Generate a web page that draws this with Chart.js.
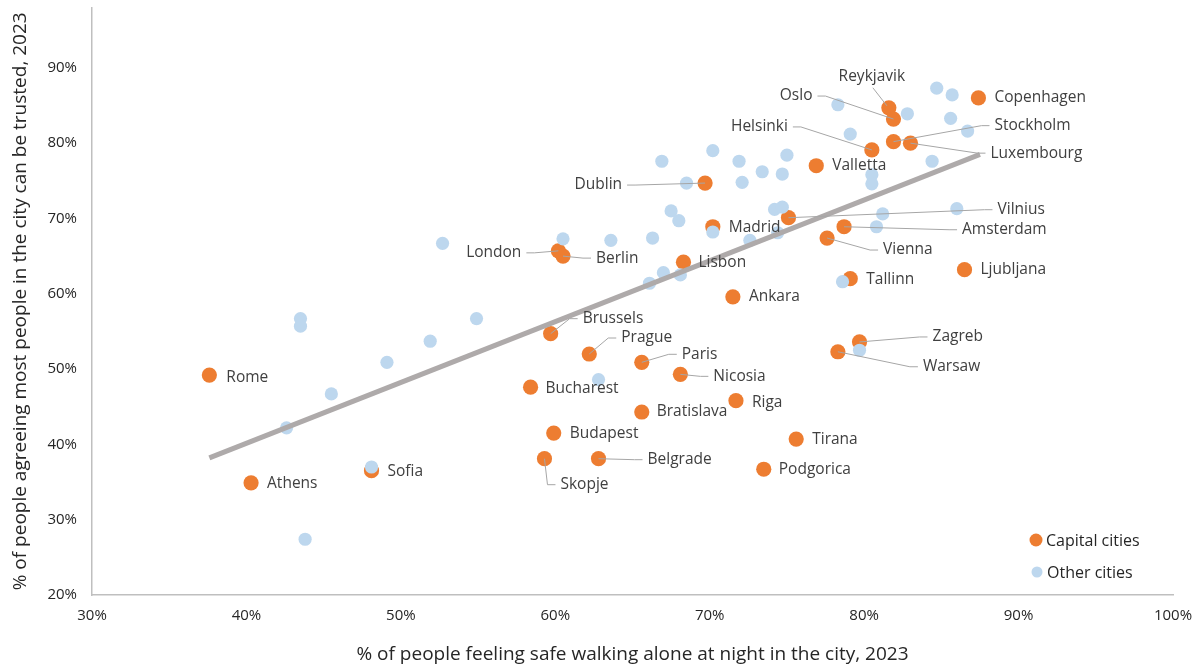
<!DOCTYPE html>
<html>
<head>
<meta charset="utf-8">
<script src="https://cdn.jsdelivr.net/npm/chart.js@4.4.1/dist/chart.umd.min.js"></script>
<style>
  html, body { margin: 0; padding: 0; background: #fff; }
  #wrap { width: 1201px; height: 668px; }
</style>
</head>
<body>
<div id="wrap"><canvas id="chart" width="1201" height="668"></canvas></div>
<script>
// Capital cities: % feeling safe at night (x) and % trusting people (y)
const capitalNames = ['Copenhagen', 'Reykjavik', 'Oslo', 'Stockholm', 'Luxembourg', 'Helsinki', 'Valletta',
    'Dublin', 'Vilnius', 'Madrid', 'Amsterdam', 'Vienna', 'London', 'Berlin', 'Lisbon', 'Ljubljana',
    'Tallinn', 'Ankara', 'Brussels', 'Zagreb', 'Prague', 'Warsaw', 'Paris', 'Nicosia', 'Rome',
    'Bucharest', 'Riga', 'Bratislava', 'Budapest', 'Tirana', 'Skopje', 'Belgrade', 'Podgorica',
    'Sofia', 'Athens'];
const capitalSafe = [87.4, 81.6, 81.9, 81.9, 83.0, 80.5, 76.9, 69.7, 75.1, 70.2, 78.7, 77.6, 60.2, 60.5,
    68.3, 86.5, 79.1, 71.5, 59.7, 79.7, 62.2, 78.3, 65.6, 68.1, 37.6, 58.4, 71.7, 65.6, 59.9, 75.6,
    59.3, 62.8, 73.5, 48.1, 40.3];
const capitalTrust = [86.0, 84.7, 83.2, 80.2, 80.0, 79.1, 77.0, 74.7, 70.1, 68.9, 68.9, 67.4, 65.7, 65.0,
    64.2, 63.2, 62.0, 59.6, 54.7, 53.6, 52.0, 52.3, 50.9, 49.3, 49.2, 47.6, 45.8, 44.3, 41.5, 40.7,
    38.1, 38.1, 36.7, 36.5, 34.9];

// Other cities
const otherSafe = [84.7, 85.7, 78.3, 82.8, 85.6, 86.7, 79.1, 66.9, 70.2, 71.9, 75.0, 73.4, 74.7, 68.5,
    72.1, 84.4, 80.5, 80.5, 67.5, 68.0, 74.2, 74.7, 70.2, 72.6, 74.4, 81.2, 86.0, 80.8, 52.7, 60.5,
    63.6, 66.3, 67.0, 68.1, 66.1, 78.6, 43.5, 43.5, 54.9, 51.9, 49.1, 45.5, 42.6, 48.1, 62.8, 43.8, 79.7];
const otherTrust = [87.3, 86.4, 85.1, 83.9, 83.3, 81.6, 81.2, 77.6, 79.0, 77.6, 78.4, 76.2, 75.9, 74.7,
    74.8, 77.6, 75.8, 74.6, 71.0, 69.7, 71.2, 71.5, 68.2, 67.1, 68.1, 70.6, 71.3, 68.9, 66.7, 67.3,
    67.1, 67.4, 62.8, 62.5, 61.4, 61.6, 56.7, 55.7, 56.7, 53.7, 50.9, 46.7, 42.2, 37.0, 48.6, 27.4, 52.5];

// Linear trend line end points
const trendSafe = [37.6, 87.5];
const trendTrust = [38.2, 78.5];

const xTitle = '% of people feeling safe walking alone at night in the city, 2023';
const yTitle = '% of people agreeing most people in the city can be trusted, 2023';
const legendNames = ['Capital cities', 'Other cities'];

const ORANGE = '#ED7D31';
const BLUE = '#BDD7EE';
const TREND = '#AEAAAA';
const LEADER = '#A6A6A6';
const FONT = '"Open Sans", "Noto Sans", sans-serif';

// label placement relative to the dot: dx, dy (px), text align, leader type
const labelPlacement = {
    Copenhagen: [16, 0, 'left', 'none'],
    Reykjavik: [-17, -31, 'center', 'straight'],
    Oslo: [-81, -23, 'right', 'elbow'],
    Stockholm: [101, -16, 'left', 'elbow'],
    Luxembourg: [80, 10, 'left', 'elbow'],
    Helsinki: [-84, -23, 'right', 'elbow'],
    Valletta: [16, 0, 'left', 'none'],
    Dublin: [-83, 2, 'right', 'elbow'],
    Vilnius: [209, -8, 'left', 'elbow'],
    Madrid: [16, 1, 'left', 'none'],
    Amsterdam: [118, 3, 'left', 'elbow'],
    Vienna: [56, 12, 'left', 'elbow'],
    London: [-37, 2, 'right', 'elbow'],
    Berlin: [33, 2, 'left', 'elbow'],
    Lisbon: [15, 0, 'left', 'none'],
    Ljubljana: [16, 0, 'left', 'none'],
    Tallinn: [16, 1, 'left', 'none'],
    Ankara: [16, 0, 'left', 'none'],
    Brussels: [32, -15, 'left', 'elbow'],
    Zagreb: [73, -5, 'left', 'elbow'],
    Prague: [32, -16, 'left', 'elbow'],
    Warsaw: [85, 15, 'left', 'elbow'],
    Paris: [40, -8, 'left', 'elbow'],
    Nicosia: [33, 2, 'left', 'elbow'],
    Rome: [17, 2, 'left', 'none'],
    Bucharest: [15, 1, 'left', 'none'],
    Riga: [16, 2, 'left', 'none'],
    Bratislava: [15, 0, 'left', 'none'],
    Budapest: [16, 0, 'left', 'none'],
    Tirana: [16, 0, 'left', 'none'],
    Skopje: [16, 26, 'left', 'elbow'],
    Belgrade: [49, 1, 'left', 'elbow'],
    Podgorica: [15, 0, 'left', 'none'],
    Sofia: [16, 1, 'left', 'none'],
    Athens: [16, 1, 'left', 'none']
};

function toPoints(xs, ys) {
    return xs.map((x, i) => ({x: x, y: ys[i]}));
}

function onlyTens(scale) {
    scale.ticks = scale.ticks.filter(t => Math.abs(t.value / 10 - Math.round(t.value / 10)) < 1e-6);
}

// Draws the capital city names with their leader lines
const cityLabels = {
    id: 'cityLabels',
    afterDatasetsDraw(chart) {
        const ctx = chart.ctx;
        const meta = chart.getDatasetMeta(2);
        ctx.save();
        ctx.font = '15.5px ' + FONT;
        ctx.textBaseline = 'middle';
        meta.data.forEach((pt, i) => {
            const place = labelPlacement[capitalNames[i]];
            if (!place) return;
            const [dx, dy, align, leader] = place;
            const tx = pt.x + dx;
            const ty = pt.y + dy;
            ctx.strokeStyle = LEADER;
            ctx.lineWidth = 1;
            if (leader === 'elbow') {
                const dir = align === 'right' ? -1 : 1;
                const sx = tx - dir * 5;
                const ex = sx - dir * 8;
                ctx.beginPath();
                ctx.moveTo(sx, ty);
                ctx.lineTo(ex, ty);
                ctx.lineTo(pt.x, pt.y);
                ctx.stroke();
            } else if (leader === 'straight') {
                ctx.beginPath();
                ctx.moveTo(tx + 1, ty + 11);
                ctx.lineTo(pt.x - 2, pt.y - 2);
                ctx.stroke();
            }
            ctx.fillStyle = '#404040';
            ctx.textAlign = align;
            ctx.fillText(capitalNames[i], tx, ty);
        });
        ctx.restore();
    }
};

// Legend in the lower right corner of the plot
const cornerLegend = {
    id: 'cornerLegend',
    afterDraw(chart) {
        const ctx = chart.ctx;
        const area = chart.chartArea;
        const items = [
            {name: legendNames[0], color: ORANGE, r: 6.5, x: area.right - 137, y: area.bottom - 55},
            {name: legendNames[1], color: BLUE, r: 5.5, x: area.right - 136, y: area.bottom - 23}
        ];
        ctx.save();
        ctx.font = '16px ' + FONT;
        ctx.textBaseline = 'middle';
        ctx.textAlign = 'left';
        items.forEach(it => {
            ctx.fillStyle = it.color;
            ctx.beginPath();
            ctx.arc(it.x, it.y, it.r, 0, Math.PI * 2);
            ctx.fill();
            ctx.fillStyle = '#262626';
            ctx.fillText(it.name, it.x + 10, it.y + 1);
        });
        ctx.restore();
    }
};

const chart = new Chart(document.getElementById('chart'), {
    type: 'scatter',
    data: {
        datasets: [
            {
                type: 'line',
                label: 'Trend',
                data: toPoints(trendSafe, trendTrust),
                borderColor: TREND,
                borderWidth: 5,
                pointRadius: 0,
                fill: false,
                order: 0
            },
            {
                label: legendNames[1],
                data: toPoints(otherSafe, otherTrust),
                backgroundColor: BLUE,
                borderWidth: 0,
                pointRadius: 6.6,
                order: 1
            },
            {
                label: legendNames[0],
                data: toPoints(capitalSafe, capitalTrust),
                backgroundColor: ORANGE,
                borderWidth: 0,
                pointRadius: 7.6,
                order: 2
            }
        ]
    },
    options: {
        responsive: false,
        animation: false,
        devicePixelRatio: 1,
        events: [],
        layout: {padding: {top: 7, right: 28, left: 0, bottom: 0}},
        plugins: {
            legend: {display: false},
            tooltip: {enabled: false}
        },
        scales: {
            x: {
                type: 'linear',
                min: 30,
                max: 100,
                afterBuildTicks: onlyTens,
                afterFit: s => { s.height = 73; s.paddingLeft = 0; s.paddingRight = 0; },
                grid: {display: false, drawTicks: false},
                border: {display: true, color: '#BFBFBF', width: 1.5},
                ticks: {
                    stepSize: 10,
                    padding: 12,
                    color: '#262626',
                    font: {family: FONT, size: 15},
                    callback: v => v + '%'
                },
                title: {
                    display: true,
                    text: xTitle,
                    color: '#262626',
                    font: {family: FONT, size: 19},
                    padding: {top: 0, bottom: 2}
                }
            },
            y: {
                type: 'linear',
                min: 20,
                max: 98,
                afterBuildTicks: onlyTens,
                afterFit: s => { s.width = 92; s.paddingTop = 0; s.paddingBottom = 0; },
                grid: {display: false, drawTicks: false},
                border: {display: true, color: '#BFBFBF', width: 1.5},
                ticks: {
                    stepSize: 10,
                    padding: 15,
                    color: '#262626',
                    font: {family: FONT, size: 15},
                    callback: v => v + '%'
                },
                title: {
                    display: true,
                    text: yTitle,
                    color: '#262626',
                    font: {family: FONT, size: 19},
                    padding: {top: 9, bottom: 0}
                }
            }
        }
    },
    plugins: [cityLabels, cornerLegend]
});
</script>
</body>
</html>
